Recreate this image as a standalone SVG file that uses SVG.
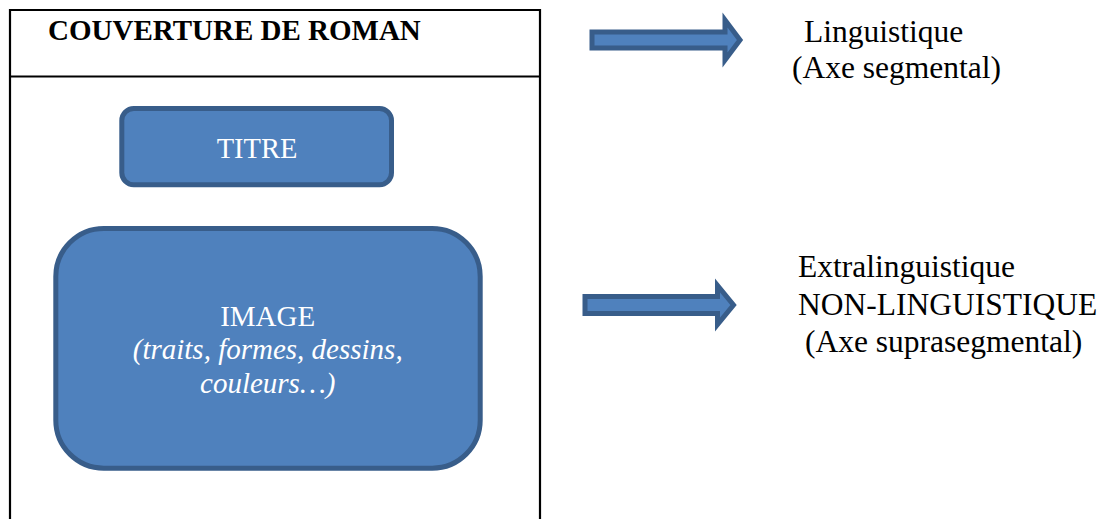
<svg xmlns="http://www.w3.org/2000/svg" width="1107" height="519" viewBox="0 0 1107 519">
<style>
.frame{stroke:#000;stroke-width:2.2;fill:none}
.shape{fill:#4F81BD;stroke:#385D8A;stroke-width:5;stroke-linejoin:miter}
.t{font-family:"Liberation Serif","Times New Roman",serif;fill:#000}
.w{font-family:"Liberation Serif","Times New Roman",serif;fill:#fff}
</style>
<rect width="1107" height="519" fill="#fff"/>
<g id="couverture">
<polyline class="frame" points="10,519 10,10 540,10 540,519"/>
<line class="frame" x1="10" y1="76.5" x2="540" y2="76.5"/>
<text class="t" x="48" y="40" font-size="29" font-weight="bold">COUVERTURE DE ROMAN</text>
</g>
<g id="titre">
<rect class="shape" x="121.8" y="108.5" width="269.7" height="76.3" rx="12" ry="12"/>
<text class="w" x="257" y="158.3" font-size="28.5" text-anchor="middle">TITRE</text>
</g>
<g id="image">
<rect class="shape" x="55.8" y="228.5" width="424.4" height="239.7" rx="48" ry="48"/>
<text class="w" x="267.7" y="326" font-size="29" text-anchor="middle">IMAGE</text>
<text class="w" x="267.7" y="358.5" font-size="29" font-style="italic" text-anchor="middle">(traits, formes, dessins,</text>
<text class="w" x="267.7" y="393" font-size="29" font-style="italic" text-anchor="middle">couleurs…)</text>
</g>
<g id="connectors">
<polygon class="shape" points="592,32 725,32 725,20 740,40 725,60 725,48 592,48"/>
<polygon class="shape" points="585,296.5 717.5,296.5 717.5,285.5 733.5,305 717.5,324.5 717.5,313.5 585,313.5"/>
</g>
<g id="linguistique">
<text class="t" x="804" y="41.7" font-size="31.5">Linguistique</text>
<text class="t" x="792" y="78.3" font-size="31.5">(Axe segmental)</text>
</g>
<g id="extralinguistique">
<text class="t" x="798" y="276.7" font-size="31.5">Extralinguistique</text>
<text class="t" x="798" y="315" font-size="31.5">NON-LINGUISTIQUE</text>
<text class="t" x="805" y="351.7" font-size="31.5">(Axe suprasegmental)</text>
</g>
</svg>
